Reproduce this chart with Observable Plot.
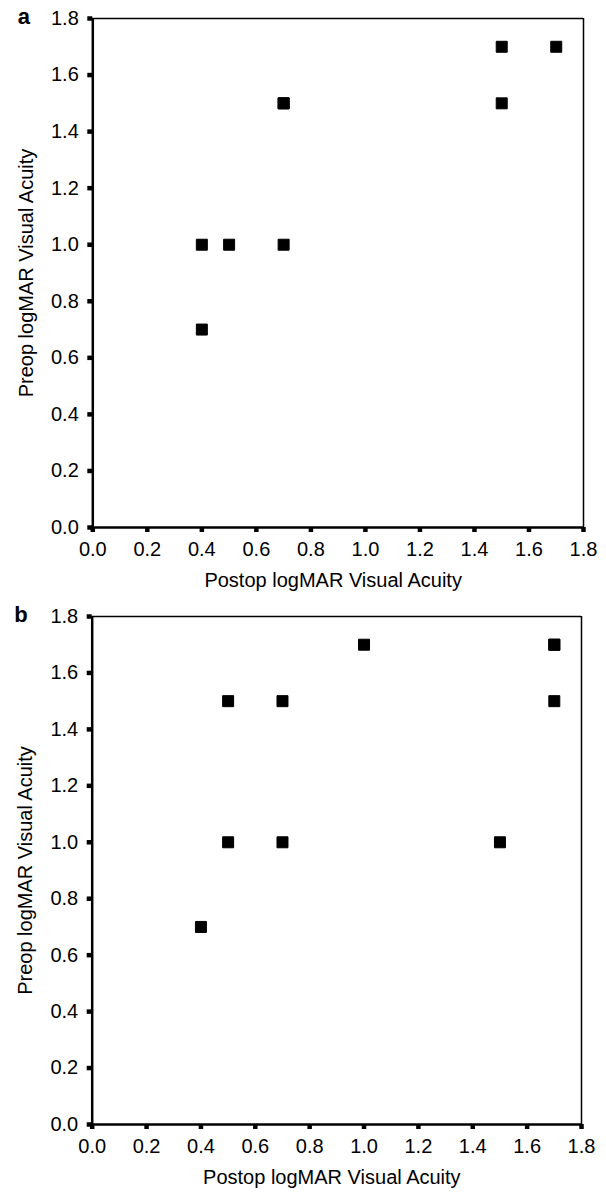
<!DOCTYPE html>
<html>
<head>
<meta charset="utf-8">
<script src="https://cdn.jsdelivr.net/npm/d3@7"></script>
<script src="https://cdn.jsdelivr.net/npm/@observablehq/plot@0.6"></script>
<style>
  html, body { margin: 0; padding: 0; background: #fff; }
  #chart { width: 606px; }
  #chart svg { display: block; }
</style>
</head>
<body>
<div id="chart"></div>
<script>
// Panel a data
const postopA = [0.4, 0.4, 0.5, 0.7, 0.7, 0.7, 1.5, 1.5, 1.7];
const preopA  = [1.0, 0.7, 1.0, 1.5, 1.5, 1.0, 1.7, 1.5, 1.7];
// Panel b data
const postopB = [0.4, 0.5, 0.5, 0.7, 0.7, 1.0, 1.5, 1.7, 1.7, 1.7];
const preopB  = [0.7, 1.5, 1.0, 1.5, 1.0, 1.7, 1.0, 1.7, 1.7, 1.5];

const tickValues = [0, 0.2, 0.4, 0.6, 0.8, 1.0, 1.2, 1.4, 1.6, 1.8];
const axisMax = 1.8;
const xLabel = "Postop logMAR Visual Acuity";
const yLabel = "Preop logMAR Visual Acuity";
const panelLabels = ["a", "b"];

const fmt = d3.format(".1f");

function panel(xs, ys, letter, m) {
  const data = xs.map((x, i) => ({x, y: ys[i]}));
  return Plot.plot({
    width: 606,
    height: 596,
    marginTop: m.top,
    marginBottom: m.bottom,
    marginLeft: m.left,
    marginRight: m.right,
    style: {fontFamily: "'Liberation Sans', Arial, sans-serif", fontSize: "20px", color: "#000", background: "#fff"},
    x: {domain: [0, axisMax]},
    y: {domain: [0, axisMax]},
    marks: [
      Plot.axisX({ticks: tickValues, tickFormat: fmt, tickSize: 5, tickPadding: 9, strokeWidth: 4.5, label: null, fontSize: 20}),
      Plot.axisY({ticks: tickValues, tickFormat: fmt, tickSize: 5, tickPadding: 9, strokeWidth: 4.5, label: null, fontSize: 20}),
      Plot.ruleY([axisMax], {stroke: "#000", strokeWidth: 1.5}),
      Plot.ruleX([axisMax], {stroke: "#000", strokeWidth: 1.5}),
      Plot.ruleX([0], {stroke: "#000", strokeWidth: 2.5}),
      Plot.ruleY([0], {stroke: "#000", strokeWidth: 2.5}),
      Plot.dot(data, {x: "x", y: "y", symbol: "square", r: 6.2, fill: "#000", stroke: "#000", strokeWidth: 1, strokeLinejoin: "round"}),
      Plot.text([xLabel], {frameAnchor: "bottom", dy: 59, dx: -5, lineAnchor: "bottom", textAnchor: "middle", fontSize: 20, fill: "#000"}),
      Plot.text([yLabel], {frameAnchor: "left", rotate: -90, dx: -74, lineAnchor: "top", textAnchor: "middle", fontSize: 20, fill: "#000"}),
      Plot.text([letter], {frameAnchor: "top-left", dx: m.letterDx, dy: m.letterDy, lineAnchor: "bottom", textAnchor: "start", fontSize: 22, fontWeight: "bold", fill: "#000"})
    ]
  });
}

const chart = document.getElementById("chart");
chart.appendChild(panel(postopA, preopA, panelLabels[0], {top: 18, bottom: 69, left: 92.3, right: 23, letterDx: -75, letterDy: 5}));
chart.appendChild(panel(postopB, preopB, panelLabels[1], {top: 20, bottom: 68, left: 91.7, right: 25, letterDx: -78, letterDy: 5}));
</script>
</body>
</html>
